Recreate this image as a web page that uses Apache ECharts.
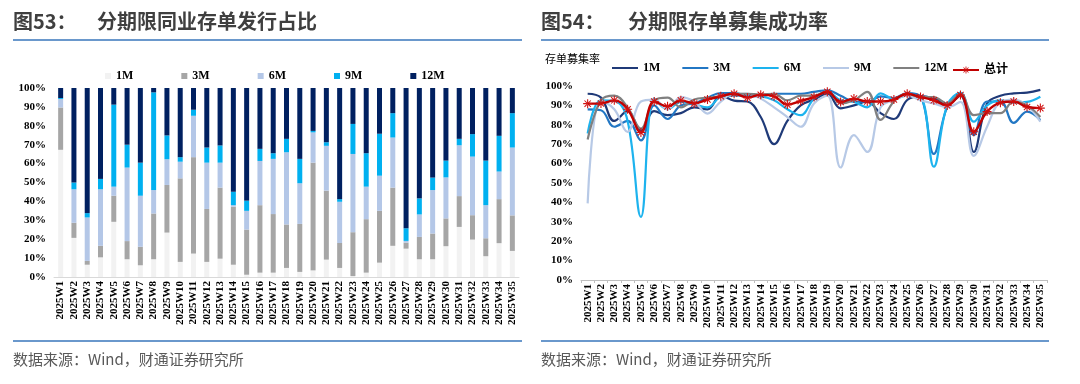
<!DOCTYPE html>
<html><head><meta charset="utf-8">
<script src="https://cdn.jsdelivr.net/npm/echarts@6/dist/echarts.min.js"></script>
<style>html,body{margin:0;padding:0;background:#fff}#c{width:1080px;height:384px}</style>
</head><body><div id="c"></div>
<script>
const weeks = Array.from({length:35},(_,i)=>'2025W'+(i+1));
const yTicks = [0,10,20,30,40,50,60,70,80,90,100];

// Chart 53: issuance share by tenor (%)
const share1M = [67.3,20.7,6.5,10.4,29.2,9.4,6.2,9.4,23.5,8.0,12.4,8.0,9.7,6.5,1.2,2.3,2.3,4.8,2.7,3.5,9.2,4.8,0.5,2.3,7.6,16.5,15.0,9.4,9.4,16.3,26.5,19.8,11.0,17.9,13.8];
const share3M = [22.4,8.0,2.0,6.1,13.8,9.6,9.8,24.2,25.2,44.2,51.0,28.0,37.6,30.7,23.9,35.7,31.0,23.0,25.4,57.0,36.5,13.2,23.2,28.3,27.4,30.8,3.2,11.8,13.6,14.7,16.3,12.9,9.5,23.3,18.8];
const share6M = [4.5,17.7,23.0,29.9,4.8,38.9,27.0,12.4,13.6,8.8,21.9,24.5,13.2,0.8,9.9,23.4,29.2,38.2,21.5,16.0,23.7,21.8,41.4,17.2,18.6,26.5,0.9,11.9,23.0,21.7,26.9,31.0,17.5,14.6,35.9];
const share9M = [0.5,3.6,2.3,5.5,43.4,12.1,17.5,51.7,12.6,2.4,3.2,8.0,9.1,7.1,5.4,6.4,3.0,7.1,12.9,0.8,1.9,1.4,15.9,17.7,22.2,12.9,6.7,8.5,6.6,8.9,3.4,11.9,23.6,18.9,18.2];
const share12M = [5.3,50.0,66.2,48.1,8.8,30.0,39.5,2.3,25.1,36.6,11.5,31.5,30.4,54.9,59.6,32.2,34.5,26.9,37.5,22.7,28.7,58.8,19.0,34.5,24.2,13.3,74.2,58.4,47.4,38.4,26.9,24.4,38.4,25.3,13.3];

// Chart 54: fundraising success rate (%)
const rate1M = [96,94,82,87,77,87,85,86,89,88,95,92.5,92,84,70,82,90,93,96,88.5,90,92,86,83,92.8,94.8,93.6,91,95,66,91,95,96.2,96.6,98];
const rate3M = [88,87.5,79,82,72,90,83,90,91,94,96.4,96.4,95,94.7,96,96,96,97,97.8,95,92,91.8,94.7,93.8,96.4,94.7,65,89,95.5,74.7,92,92,81,86.8,82.5];
const rate6M = [75.5,92.6,92.3,82,32.5,93.5,88,91.8,90.6,89,94.3,95,95,94.7,92.6,88,85,93.5,97,92.6,91.8,89,96.2,93.5,95,94.3,58.4,90,96.5,81.6,90,92.6,91.4,91.8,94.5];
const rate9M = [39.5,92.6,88,76.4,92,93,88,94.3,92,85.8,92,96,96,93.5,89,84,79,91,95,58,74.7,66,89,92.8,95,92.6,91,89,91.8,64,79,91.8,93,90,81.6];
const rate12M = [72.4,92.6,95,89,78,92.6,94,89,93,94,94.7,96,96,95.7,96,92.6,95,95,97.4,91,92.6,97,82.5,92,96,94.3,94.3,91,96,85,86,86,92,90,84];
const rateTotal = [90.9,91,92.6,88,76,92,89.5,92.6,91,93,94.7,96,94,95.5,94.7,90.4,92.3,94.3,97,91.8,93.5,92,92,93,96,94.3,92.6,90,95.4,76.4,86.8,91.4,92,89.2,88.6];

const serif = "'Liberation Serif','Times New Roman','Noto Sans CJK SC',serif";
const cjk = "'Noto Sans CJK SC','Noto Sans',sans-serif";
const starPath = 'path://M-0.12,-1L0.12,-1L0.12,1L-0.12,1Z M-1,-0.12L1,-0.12L1,0.12L-1,0.12Z M-0.78,-0.62L-0.62,-0.78L0.78,0.62L0.62,0.78Z M0.78,-0.62L0.62,-0.78L-0.78,0.62L-0.62,0.78Z';

const chart = echarts.init(document.getElementById('c'), null, {renderer:'canvas'});

const barNames = ['1M','3M','6M','9M','12M'];
const barColors = ['#F2F2F2','#A6A6A6','#B4C7E7','#00B0F0','#002060'];
const barData = [share1M,share3M,share6M,share9M,share12M];
const lineNames = ['L1M','L3M','L6M','L9M','L12M'];
const lineColors = ['#1F3A78','#2277C4','#1DB3EE','#B7C9E6','#808080'];
const lineData = [rate1M,rate3M,rate6M,rate9M,rate12M];

const xAxisCommon = {
  type:'category', data:weeks, boundaryGap:true,
  axisLabel:{rotate:90, interval:0, fontFamily:serif, fontWeight:'bold', fontSize:11, color:'#000', margin:4},
};
const yAxisCommon = {
  type:'value', min:0, max:100, interval:10,
  axisLabel:{formatter:'{value}%', fontFamily:serif, fontWeight:'bold', fontSize:11, color:'#000', margin:8},
  splitLine:{show:false}, axisLine:{show:false}, axisTick:{show:false}
};

const series = [];
barNames.forEach((n,i)=>{
  series.push({name:n, type:'bar', stack:'share', xAxisIndex:0, yAxisIndex:0, barWidth:5,
    data:barData[i], itemStyle:{color:barColors[i]}, emphasis:{disabled:true}});
});
lineNames.forEach((n,i)=>{
  series.push({name:n, type:'line', xAxisIndex:1, yAxisIndex:1, smooth:0.4, symbol:'none',
    data:lineData[i], lineStyle:{color:lineColors[i], width:2.2}, itemStyle:{color:lineColors[i]}, emphasis:{disabled:true}});
});
series.push({name:'L总计', type:'line', xAxisIndex:1, yAxisIndex:1, smooth:0.4, symbol:starPath, symbolSize:9,
  showAllSymbol:true, data:rateTotal, lineStyle:{color:'#C00000', width:2.4}, itemStyle:{color:'#D01010'}, emphasis:{disabled:true}});

const legendText = {fontFamily:serif, fontWeight:'bold', fontSize:12, color:'#000'};
const option = {
  animation:false,
  backgroundColor:'#fff',
  grid:[
    {left:54, top:88, width:465, height:189},
    {left:581, top:86, width:466, height:194}
  ],
  xAxis:[
    Object.assign({gridIndex:0, axisLine:{lineStyle:{color:'#D9D9D9'}}, axisTick:{show:false}}, xAxisCommon),
    Object.assign({gridIndex:1, axisLine:{lineStyle:{color:'#BFBFBF'}}, axisTick:{show:true, length:3, lineStyle:{color:'#BFBFBF'}}}, xAxisCommon)
  ],
  yAxis:[
    Object.assign({gridIndex:0}, yAxisCommon),
    Object.assign({gridIndex:1, name:'存单募集率', nameLocation:'end', nameGap:22,
      nameTextStyle:{fontFamily:cjk, fontSize:11, color:'#000', align:'left', padding:[0,0,0,-36]}}, yAxisCommon)
  ],
  legend:[
    {data:barNames, left:100, top:65, icon:'rect', itemWidth:6, itemHeight:6, itemGap:48, textStyle:legendText},
    {data:lineNames, left:606, top:57, itemWidth:26, itemHeight:2, itemGap:21,
      formatter:(n)=>n.slice(1), textStyle:legendText},
    {data:['L总计'], left:947, top:59, itemWidth:26, itemHeight:9,
      formatter:(n)=>n.slice(1), textStyle:legendText}
  ],
  graphic:[
    {type:'text', left:13, top:11, style:{text:'图53：', font:"bold 20px 'Noto Sans CJK SC'", fill:'#3F3F3F'}},
    {type:'text', left:97, top:11, style:{text:'分期限同业存单发行占比', font:"bold 20px 'Noto Sans CJK SC'", fill:'#3F3F3F'}},
    {type:'text', left:541, top:11, style:{text:'图54：', font:"bold 20px 'Noto Sans CJK SC'", fill:'#3F3F3F'}},
    {type:'text', left:628, top:11, style:{text:'分期限存单募集成功率', font:"bold 20px 'Noto Sans CJK SC'", fill:'#3F3F3F'}},
    {type:'rect', shape:{x:13, y:39, width:509, height:2}, style:{fill:'#6A98CC'}},
    {type:'rect', shape:{x:541, y:39, width:508, height:2}, style:{fill:'#6A98CC'}},
    {type:'rect', shape:{x:13, y:340, width:509, height:2}, style:{fill:'#6A98CC'}},
    {type:'rect', shape:{x:541, y:340, width:508, height:2}, style:{fill:'#6A98CC'}},
    {type:'text', left:13, top:352, style:{text:'数据来源：Wind，财通证券研究所', font:"15px 'Noto Sans CJK SC'", fill:'#595959'}},
    {type:'text', left:541, top:352, style:{text:'数据来源：Wind，财通证券研究所', font:"15px 'Noto Sans CJK SC'", fill:'#595959'}}
  ],
  series:series
};
chart.setOption(option);
</script>
</body></html>
